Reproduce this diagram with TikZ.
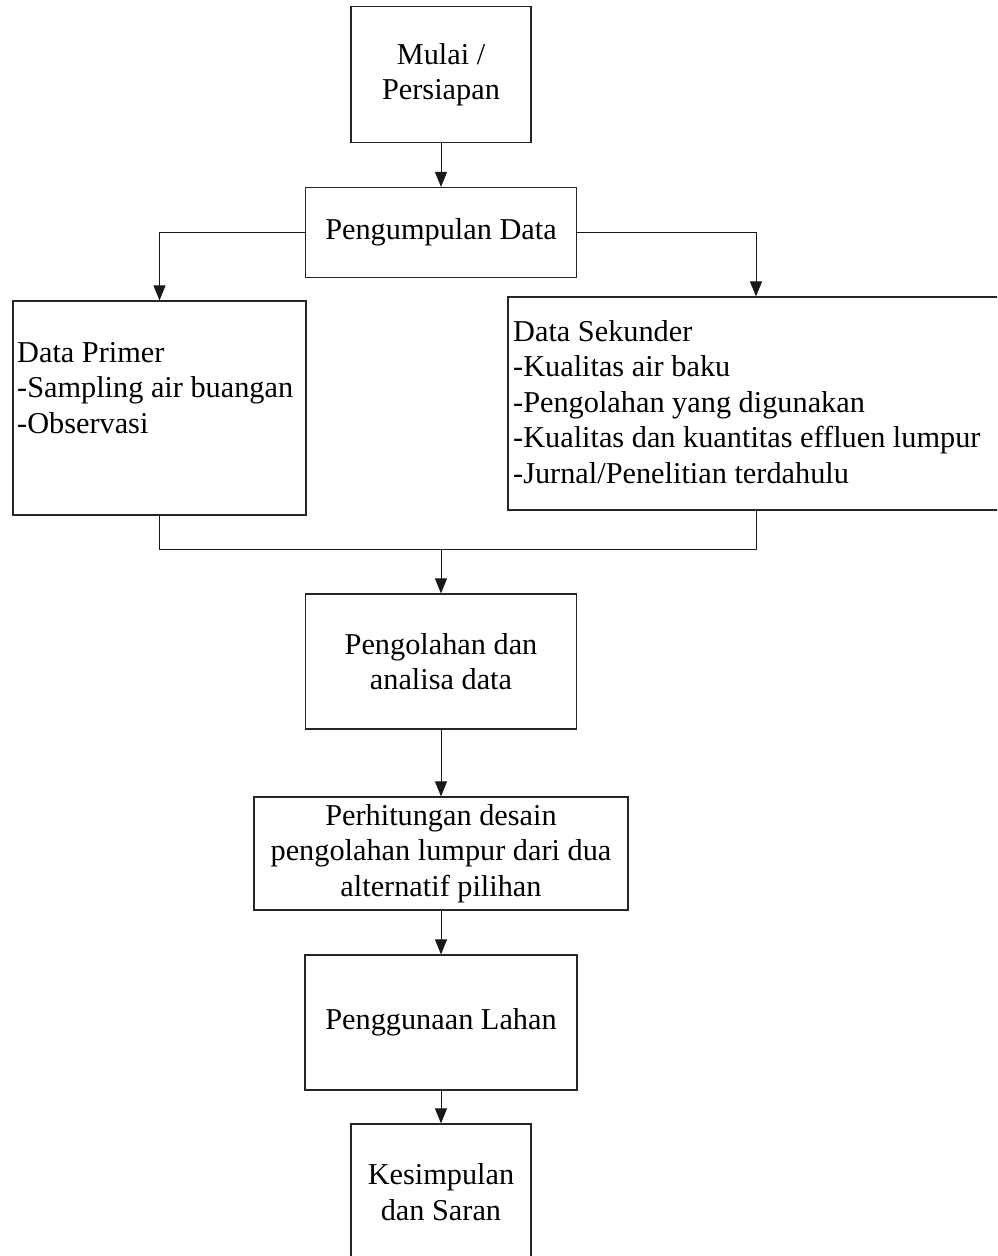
\documentclass[tikz,border=0pt]{standalone}
\usepackage{fontspec}
\setmainfont{Liberation Serif}
\usetikzlibrary{arrows.meta}
\begin{document}
\begin{tikzpicture}[x=1pt,y=-1pt,
  box/.style={draw=black!85, line width=1.2pt, rectangle, inner sep=0pt, align=center, font=\fontsize{30.3}{35.5}\selectfont},
  txt/.style={inner sep=0pt, align=left, font=\fontsize{30.3}{35.5}\selectfont},
  arr/.style={draw=black!90, line width=1pt, -{Triangle[width=12pt,length=15pt]}},
  ln/.style={draw=black!90, line width=1pt}]
\useasboundingbox (0,0) rectangle (997,1256);
\clip (0,0) rectangle (997,1256);
\node[box, minimum width=180, minimum height=136] (mulai) at (441,74.5) {Mulai /\\Persiapan};
\node[box, minimum width=271, minimum height=90] (pengumpulan) at (441,232.5) {Pengumpulan Data};
\node[box, minimum width=293, minimum height=214] (primer) at (159.5,408) {};
\node[txt, anchor=west] (primertext) at (17,388) {Data Primer\\-Sampling air buangan\\-Observasi};
\node[box, minimum width=496, minimum height=213] (sekunder) at (756,403.5) {};
\node[txt, anchor=west] (sekundertext) at (513,402) {Data Sekunder\\-Kualitas air baku\\-Pengolahan yang digunakan\\-Kualitas dan kuantitas effluen lumpur\\-Jurnal/Penelitian terdahulu};
\node[box, minimum width=271, minimum height=135] (pengolahan) at (441,661.5) {Pengolahan dan\\analisa data};
\node[box, minimum width=374, minimum height=113] (perhitungan) at (441,853.5) {Perhitungan desain\\pengolahan lumpur dari dua\\alternatif pilihan};
\node[box, minimum width=272, minimum height=135] (penggunaan) at (441,1022.5) {Penggunaan Lahan};
\node[box, minimum width=180, minimum height=136] (kesimpulan) at (441,1192) {Kesimpulan\\dan Saran};
\coordinate (join) at (441,549);
\draw[arr] (mulai) -- (pengumpulan);
\draw[arr] (pengumpulan.west) -| (primer.north);
\draw[arr] (pengumpulan.east) -| (sekunder.north);
\draw[ln] (primer.south) |- (join);
\draw[ln] (sekunder.south) |- (join);
\draw[arr] (join) -- (pengolahan.north);
\draw[arr] (pengolahan) -- (perhitungan);
\draw[arr] (perhitungan) -- (penggunaan);
\draw[arr] (penggunaan) -- (kesimpulan);
\end{tikzpicture}
\end{document}
